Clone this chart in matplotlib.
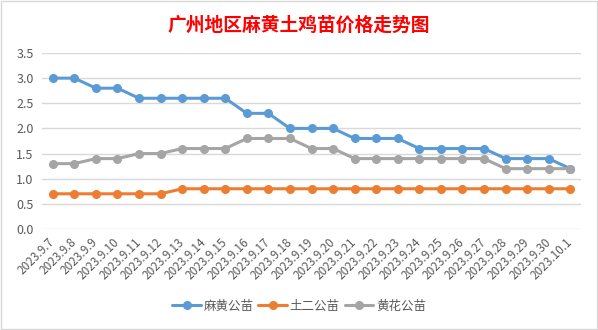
import matplotlib
matplotlib.use('Agg')
import matplotlib.pyplot as plt
from matplotlib.patches import Rectangle

plt.rcParams['font.family'] = ['Noto Sans CJK SC', 'DejaVu Sans']

dates = ['2023.9.7', '2023.9.8', '2023.9.9', '2023.9.10', '2023.9.11', '2023.9.12',
         '2023.9.13', '2023.9.14', '2023.9.15', '2023.9.16', '2023.9.17', '2023.9.18',
         '2023.9.19', '2023.9.20', '2023.9.21', '2023.9.22', '2023.9.23', '2023.9.24',
         '2023.9.25', '2023.9.26', '2023.9.27', '2023.9.28', '2023.9.29', '2023.9.30',
         '2023.10.1']
mahuang = [3.0, 3.0, 2.8, 2.8, 2.6, 2.6, 2.6, 2.6, 2.6, 2.3, 2.3, 2.0, 2.0, 2.0,
           1.8, 1.8, 1.8, 1.6, 1.6, 1.6, 1.6, 1.4, 1.4, 1.4, 1.2]
tuer = [0.7, 0.7, 0.7, 0.7, 0.7, 0.7, 0.8, 0.8, 0.8, 0.8, 0.8, 0.8, 0.8, 0.8,
        0.8, 0.8, 0.8, 0.8, 0.8, 0.8, 0.8, 0.8, 0.8, 0.8, 0.8]
huanghua = [1.3, 1.3, 1.4, 1.4, 1.5, 1.5, 1.6, 1.6, 1.6, 1.8, 1.8, 1.8, 1.6, 1.6,
            1.4, 1.4, 1.4, 1.4, 1.4, 1.4, 1.4, 1.2, 1.2, 1.2, 1.2]
yticks = [0.0, 0.5, 1.0, 1.5, 2.0, 2.5, 3.0, 3.5]

fig = plt.figure(figsize=(5.98, 3.30), dpi=100)
ax = fig.add_axes([42 / 598, 1 - 229 / 330, 539 / 598, 176 / 330])

x = range(len(dates))
series = [(mahuang, '麻黄公苗', '#5B9BD5'),
          (tuer, '土二公苗', '#ED7D31'),
          (huanghua, '黄花公苗', '#A5A5A5')]
for vals, name, col in series:
    ax.plot(x, vals, color=col, lw=2.2, marker='o', ms=5.5, label=name,
            solid_capstyle='round')

ax.set_xlim(-0.5, len(dates) - 0.5)
ax.set_ylim(0, 3.5)
ax.set_yticks(yticks)
ax.set_yticklabels(['%.1f' % v for v in yticks], color='#595959', fontsize=9)
ax.set_xticks(list(x))
ax.set_xticklabels(dates, rotation=45, ha='right', va='center',
                   rotation_mode='anchor', color='#595959', fontsize=8.5)
ax.tick_params(length=0, pad=6)
ax.tick_params(axis='x', pad=8)
ax.grid(axis='y', color='#D9D9D9', lw=1)
ax.set_axisbelow(True)
for s in ax.spines.values():
    s.set_visible(False)

fig.text(0.5, 1 - 25 / 330, '广州地区麻黄土鸡苗价格走势图', color='#FF0000',
         fontsize=13.5, fontweight='bold', ha='center', va='center')

fig.legend(loc='center', bbox_to_anchor=(0.5, 1 - 306 / 330), ncol=3,
           frameon=False, fontsize=9, handlelength=2.3, columnspacing=0.4,
           handletextpad=0.2, labelcolor='#595959')

fig.patches.append(Rectangle((0.002, 0.004), 0.996, 0.992, transform=fig.transFigure,
                             fill=False, edgecolor='#D9D9D9', lw=1))

fig.savefig('out.png', dpi=100)
